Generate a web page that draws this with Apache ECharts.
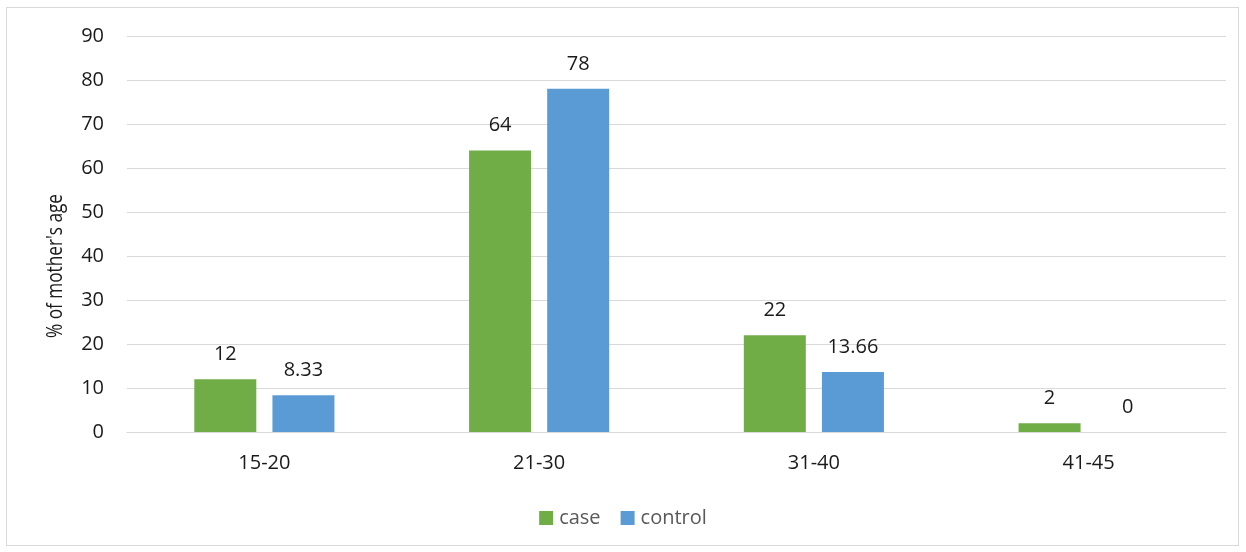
<!DOCTYPE html>
<html>
<head>
<meta charset="utf-8">
<script src="https://cdn.jsdelivr.net/npm/echarts@6/dist/echarts.min.js"></script>
<style>
  html, body { margin: 0; padding: 0; background: #fff; }
  #frame { position: absolute; left: 6px; top: 7px; width: 1233px; height: 539px; border: 1px solid #d9d9d9; box-sizing: border-box; }
  #chart { width: 1246px; height: 552px; position: absolute; left: 0; top: 0; }
</style>
</head>
<body>
<div id="frame"></div>
<div id="chart"></div>
<script>
// Mother's age groups and percentage shares per group
const ageGroups = ['15-20', '21-30', '31-40', '41-45'];
const caseValues = [12, 64, 22, 2];
const controlValues = [8.33, 78, 13.66, 0];
const yTicks = [0, 10, 20, 30, 40, 50, 60, 70, 80, 90];
const yTitle = "% of mother's age";

const font = '"Open Sans", "Noto Sans", sans-serif';
const chart = echarts.init(document.getElementById('chart'), null, { renderer: 'canvas' });

const labelStyle = {
  show: true,
  position: 'top',
  distance: 15,
  fontFamily: font,
  fontSize: 20,
  color: '#1a1a1a'
};

chart.setOption({
  animation: false,
  textStyle: { fontFamily: font },
  grid: { left: 127, right: 20, top: 36, bottom: 120, containLabel: false },
  legend: {
    top: 503,
    left: 'center',
    itemWidth: 14,
    itemHeight: 14,
    itemGap: 20,
    icon: 'rect',
    textStyle: { fontFamily: font, fontSize: 20, color: '#595959', padding: [0, 0, 0, 1] },
    data: ['case', 'control']
  },
  // rotated axis title, slightly condensed to keep its narrow proportions
  graphic: [{
    type: 'text',
    x: 56,
    y: 266,
    rotation: Math.PI / 2,
    scaleX: 0.82,
    style: {
      text: yTitle,
      fontFamily: font,
      fontSize: 21,
      fill: '#1a1a1a',
      align: 'center',
      verticalAlign: 'middle'
    }
  }],
  xAxis: {
    type: 'category',
    data: ageGroups,
    axisLine: { lineStyle: { color: '#d9d9d9', width: 1 } },
    axisTick: { show: false },
    axisLabel: { fontFamily: font, fontSize: 20, color: '#1a1a1a', margin: 21 }
  },
  yAxis: {
    type: 'value',
    min: yTicks[0],
    max: yTicks[yTicks.length - 1],
    interval: 10,
    axisLine: { show: false },
    axisTick: { show: false },
    axisLabel: { fontFamily: font, fontSize: 20, color: '#1a1a1a', margin: 23 },
    splitLine: { lineStyle: { color: '#d9d9d9', width: 1 } }
  },
  series: [
    {
      name: 'case',
      type: 'bar',
      data: caseValues,
      barWidth: 62,
      barGap: '26%',
      itemStyle: { color: '#70ad47' },
      label: labelStyle
    },
    {
      name: 'control',
      type: 'bar',
      data: controlValues,
      barWidth: 62,
      itemStyle: { color: '#5b9bd5' },
      label: labelStyle
    }
  ]
});
</script>
</body>
</html>
